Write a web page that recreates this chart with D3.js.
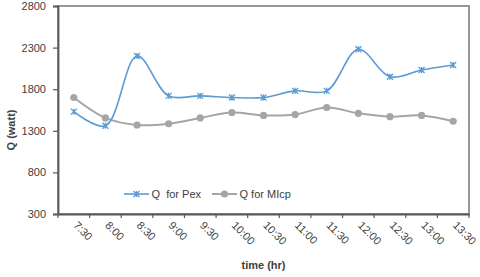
<!DOCTYPE html>
<html><head><meta charset="utf-8">
<script src="https://cdn.jsdelivr.net/npm/d3@7"></script>
<style>body{margin:0;background:#fff}svg{display:block}text{font-family:"Liberation Sans",Arial,sans-serif;white-space:pre}</style>
</head><body><svg id="c" width="480" height="277"></svg>
<script>
const categories = ["7:30","8:00","8:30","9:00","9:30","10:00","10:30","11:00","11:30","12:00","12:30","13:00","13:30"];
const pexValues = [1530,1360,2200,1720,1720,1700,1700,1780,1780,2280,1950,2030,2090];
const mlcpValues = [1700,1455,1370,1385,1455,1520,1485,1495,1580,1510,1470,1485,1415];
const yTicks = [300,800,1300,1800,2300,2800];
const seriesNames = ["Q  for Pex","Q for MIcp"];

const svg = d3.select("#c");
const L=58, R=469, T=6, B=214;
const x = d3.scaleBand().domain(categories).range([L,R]);
const y = d3.scaleLinear().domain([300,2800]).range([B,T]);

// frame
svg.append("rect").attr("x",L).attr("y",T).attr("width",R-L).attr("height",B-T)
  .attr("fill","none").attr("stroke","#7f7f7f").attr("stroke-width",1.6);

// y axis
const ya = svg.append("g").attr("transform",`translate(${L},0)`)
  .call(d3.axisLeft(y).tickValues(yTicks).tickSize(5).tickPadding(7).tickFormat(d3.format("d")));
ya.select(".domain").attr("stroke","#595959").attr("stroke-width",1.8);
ya.selectAll(".tick line").attr("stroke","#595959").attr("stroke-width",1.2);
ya.selectAll("text").attr("font-size",11).attr("fill","#404040");

// x axis
const xa = svg.append("g").attr("transform",`translate(0,${B})`)
  .call(d3.axisBottom(x).tickSize(0).tickFormat(""));
xa.select(".domain").attr("stroke","#595959").attr("stroke-width",1.8);
const edges = categories.map(c=>x(c)).concat([R]);
svg.append("g").selectAll("line").data(edges).join("line")
  .attr("x1",d=>d).attr("x2",d=>d).attr("y1",B).attr("y2",B+4)
  .attr("stroke","#595959").attr("stroke-width",1.2);
svg.append("g").selectAll("text").data(categories).join("text")
  .attr("transform",d=>`translate(${x(d)+x.bandwidth()/2-1},${B+12}) rotate(45)`)
  .attr("font-size",11).attr("fill","#404040").text(d=>d);

const cx = d=>x(d)+x.bandwidth()/2;
const line = d3.line().curve(d3.curveCatmullRom.alpha(0.5));

const blue = "#5b9bd5", gray = "#a5a5a5";
svg.append("path").attr("d",line(categories.map((c,i)=>[cx(c),y(mlcpValues[i])])))
  .attr("fill","none").attr("stroke",gray).attr("stroke-width",2);
svg.append("g").selectAll("circle").data(categories).join("circle")
  .attr("cx",cx).attr("cy",(c,i)=>y(mlcpValues[i])).attr("r",3.6).attr("fill",gray);
svg.append("path").attr("d",line(categories.map((c,i)=>[cx(c),y(pexValues[i])])))
  .attr("fill","none").attr("stroke",blue).attr("stroke-width",1.6);
function star(g, px, py){
  const s=3;
  g.append("path").attr("d",`M${px-s},${py-s}L${px+s},${py+s}M${px-s},${py+s}L${px+s},${py-s}M${px},${py-s}L${px},${py+s}`)
   .attr("stroke",blue).attr("stroke-width",1.3).attr("fill","none");
}
const mg = svg.append("g");
categories.forEach((c,i)=>star(mg,cx(c),y(pexValues[i])));

// legend
const lg = svg.append("g");
lg.append("line").attr("x1",124).attr("x2",149).attr("y1",194).attr("y2",194).attr("stroke",blue).attr("stroke-width",1.6);
star(lg,136.5,194);
lg.append("text").attr("x",151.5).attr("y",198).attr("font-size",11).attr("fill","#404040").text(seriesNames[0]);
lg.append("line").attr("x1",212).attr("x2",237).attr("y1",194).attr("y2",194).attr("stroke",gray).attr("stroke-width",2);
lg.append("circle").attr("cx",224.5).attr("cy",194).attr("r",3.6).attr("fill",gray);
lg.append("text").attr("x",239.5).attr("y",198).attr("font-size",11).attr("fill","#404040").text(seriesNames[1]);

// axis titles
svg.append("text").attr("transform","translate(15,130) rotate(-90)").attr("text-anchor","middle")
  .attr("font-size",11).attr("font-weight","bold").attr("fill","#404040").text("Q (watt)");
svg.append("text").attr("x",263.5).attr("y",269).attr("text-anchor","middle")
  .attr("font-size",11).attr("font-weight","bold").attr("fill","#404040").text("time (hr)");
</script></body></html>
